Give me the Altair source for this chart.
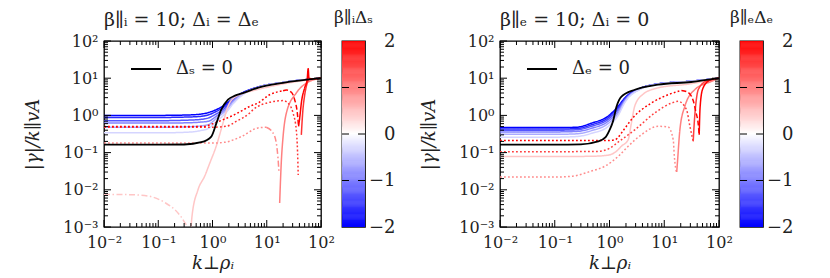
import altair as alt
import pandas as pd

# ------------------------------------------------------------------ data
# LEFT panel: beta_par_i = 10; Delta_i = Delta_e
L_K_BLUE = [0.01, 0.1, 0.3, 0.6, 0.85, 1.2, 1.7, 2.5, 3.5, 7, 20, 100]
L_BLUE_DELTA = [-2, -5/3, -4/3, -1, -2/3, -1/3]
L_BLUE = [
    [1.00, 1.00, 1.02, 1.08, 1.20, 1.45, 1.94, 3.00, 4.00, 5.80, 7.70, 10],
    [0.88, 0.88, 0.90, 0.94, 1.04, 1.30, 1.76, 2.85, 3.90, 5.80, 7.70, 10],
    [0.72, 0.72, 0.74, 0.78, 0.86, 1.12, 1.58, 2.70, 3.80, 5.75, 7.70, 10],
    [0.62, 0.62, 0.63, 0.66, 0.70, 0.97, 1.42, 2.55, 3.70, 5.70, 7.70, 10],
    [0.48, 0.48, 0.49, 0.52, 0.57, 0.85, 1.29, 2.40, 3.60, 5.70, 7.70, 10],
    [0.34, 0.34, 0.35, 0.39, 0.45, 0.70, 1.10, 2.20, 3.45, 5.65, 7.70, 10],
]
L_K_BLACK = [0.01, 0.1, 0.3, 0.62, 0.95, 1.18, 1.45, 1.93, 2.6, 3.5, 7, 20, 100]
L_BLACK = [0.163, 0.163, 0.165, 0.19, 0.27, 0.62, 1.42, 2.64, 3.4, 3.9, 5.6, 7.5, 10]

L_A_K = [0.01, 0.03, 0.065, 0.13, 0.23, 0.3, 0.36, 0.4]
L_A_G = [0.0075, 0.0074, 0.0068, 0.0046, 0.0024, 0.0014, 0.0008, 0.0003]
L_B_K = [0.38, 0.42, 0.54, 0.72, 0.89, 1.17, 1.56, 1.93, 2.6, 7, 20, 100]
L_B_G = [0.0003, 0.002, 0.01, 0.0235, 0.052, 0.148, 0.62, 1.76, 3.1, 5.0, 7.0, 10]
L_C_K = [0.01, 0.1, 0.5, 1.0, 1.7, 3.4, 6.9, 9.8]
L_C_G = [0.18, 0.18, 0.18, 0.18, 0.19, 0.27, 0.46, 0.48]
L_D_K = [9.8, 13, 15, 16.1, 16.8]
L_D_G = [0.48, 0.34, 0.18, 0.072, 0.03]
L_E_K = [17.3, 18.5, 20, 23, 35, 54, 100]
L_E_G = [0.0044, 0.052, 0.27, 1.16, 4.0, 7.4, 10]
L_F_K = [0.01, 0.1, 0.5, 1.0, 1.8, 2.74, 4.85, 5.6, 11.3, 20, 24.6, 30.5, 35, 37, 38]
L_F_G = [0.48, 0.48, 0.48, 0.48, 0.51, 0.69, 1.16, 1.42, 2.25, 2.5, 2.15, 1.16, 0.41, 0.1, 0.025]
L_G_K = [43.4, 46, 50, 53.6, 60, 100]
L_G_G = [0.3, 1.2, 3.5, 6.0, 9.2, 10]
L_H_K = [0.01, 0.1, 0.4, 0.67, 1.02, 1.68, 2.39, 3.35, 4.85, 6.9, 11.3, 16, 20]
L_H_G = [0.5, 0.5, 0.5, 0.5, 0.6, 0.8, 1.0, 1.3, 1.75, 2.15, 3.6, 4.3, 4.6]
L_I_K = [20, 23, 28.4, 32.7, 36.6, 38.6]
L_I_G = [4.6, 4.8, 4.2, 2.64, 1.16, 0.51]
L_J_K = [38.6, 41, 43.4, 50, 55.5, 58, 60, 70, 100]
L_J_G = [0.51, 1.0, 2.15, 5.5, 9.1, 18, 10, 9.6, 10]

L_PIECES = [
    (0.45, "dashdot", L_A_K, L_A_G),
    (0.45, "solid", L_B_K, L_B_G),
    (0.9, "dotted", L_C_K, L_C_G),
    (0.9, "dashdot", L_D_K, L_D_G),
    (1.0, "solid", L_E_K, L_E_G),
    (1.6, "dotted", L_F_K, L_F_G),
    (1.6, "solid", L_G_K, L_G_G),
    (2.0, "dotted", L_H_K, L_H_G),
    (2.0, "dashed", L_I_K, L_I_G),
    (2.0, "solid", L_J_K, L_J_G),
]

# RIGHT panel: beta_par_e = 10; Delta_i = 0
R_K_BLUE = [0.01, 0.1, 0.25, 0.47, 0.94, 1.44, 1.9, 3.8, 7.7, 31, 100]
R_BLUE_DELTA = [-2, -5/3, -4/3, -1, -2/3, -1/3]
R_BLUE = [
    [0.47, 0.47, 0.48, 0.62, 0.95, 1.76, 2.94, 5.50, 7.00, 8.3, 10],
    [0.43, 0.43, 0.44, 0.56, 0.86, 1.60, 2.80, 5.45, 7.00, 8.3, 10],
    [0.40, 0.40, 0.41, 0.51, 0.78, 1.45, 2.65, 5.40, 7.00, 8.3, 10],
    [0.36, 0.36, 0.37, 0.45, 0.69, 1.30, 2.50, 5.35, 6.95, 8.3, 10],
    [0.31, 0.31, 0.32, 0.39, 0.60, 1.15, 2.35, 5.30, 6.95, 8.3, 10],
    [0.26, 0.26, 0.27, 0.33, 0.50, 1.00, 2.20, 5.20, 6.90, 8.3, 10],
]
R_K_BLACK = [0.01, 0.1, 0.3, 0.62, 0.85, 1.0, 1.16, 1.34, 1.65, 2.9, 7.7, 31, 100]
R_BLACK = [0.163, 0.163, 0.167, 0.20, 0.26, 0.40, 0.70, 1.7, 3.2, 4.9, 6.7, 7.9, 10]

R_A_K = [0.01, 0.1, 0.5, 0.8, 1.08, 1.4, 1.65, 2.19, 2.5, 2.9, 4, 7.7, 31, 100]
R_A_G = [0.078, 0.078, 0.08, 0.083, 0.09, 0.115, 0.148, 0.22, 0.6, 1.8, 3.6, 5.5, 7.1, 10]
R_B_K = [0.01, 0.1, 0.2, 0.47, 0.82, 1.44, 2.19, 3.8, 7.7, 11.7, 14.6, 15.3, 16.8]
R_B_G = [0.022, 0.022, 0.023, 0.032, 0.043, 0.079, 0.148, 0.30, 0.51, 0.49, 0.22, 0.079, 0.028]
R_C_K = [16.9, 17.5, 19.3, 23.8, 36, 73, 100]
R_C_G = [0.03, 0.06, 0.41, 1.76, 4.9, 8.2, 10]
R_D_K = [0.01, 0.1, 0.6, 1.0, 1.5, 2.9, 6.7, 13.6, 18, 25.5, 29.4, 33.8]
R_D_G = [0.106, 0.106, 0.107, 0.13, 0.2, 0.41, 1.16, 2.15, 2.39, 1.42, 0.51, 0.20]
R_E_K = [33.8, 35.5, 37, 42, 60, 100]
R_E_G = [0.2, 0.7, 1.5, 5, 8.5, 10]
R_F_K = [0.01, 0.1, 0.5, 0.9, 1.25, 1.8, 2.5, 5.8, 11.8, 20.6]
R_F_G = [0.21, 0.21, 0.21, 0.21, 0.22, 0.4, 0.77, 2.15, 3.6, 4.7]
R_G_K = [20.6, 27, 33.8, 38, 41.7, 43.5]
R_G_G = [4.7, 4.2, 2.5, 1.2, 0.6, 0.3]
R_H_K = [43.5, 45, 50, 65, 100]
R_H_G = [0.3, 1.5, 5, 8.5, 10]

R_PIECES = [
    (0.45, "solid", R_A_K, R_A_G),
    (0.9, "dotted", R_B_K, R_B_G),
    (1.0, "solid", R_C_K, R_C_G),
    (1.5, "dotted", R_D_K, R_D_G),
    (1.5, "solid", R_E_K, R_E_G),
    (2.0, "dotted", R_F_K, R_F_G),
    (2.0, "dashed", R_G_K, R_G_G),
    (2.0, "solid", R_H_K, R_H_G),
]

X_MAJOR = [0.01, 0.1, 1, 10, 100]
Y_MAJOR = [0.001, 0.01, 0.1, 1, 10, 100]
X_MINOR = [m * 10.0 ** e for e in range(-2, 2) for m in range(2, 10)]
Y_MINOR = [m * 10.0 ** e for e in range(-3, 2) for m in range(2, 10)]
X_LABELS = ["10⁻²", "10⁻¹", "10⁰", "10¹", "10²"]
Y_LABELS = ["10⁻³", "10⁻²", "10⁻¹", "10⁰", "10¹", "10²"]

CB_TICKS = [-2, -1, 0, 1, 2]
CB_INNER = [-1, 0, 1]
CB_STEP = 0.02
CB_LO = [-2 + i * CB_STEP for i in range(200)]

# ------------------------------------------------------------------ style
FONT = "DejaVu Serif"
TXT = "#222222"
W_L, W_R, H = 217, 219, 186
CB_W = 23
GAP = 21
MID_GAP = 135

X_SCALE = alt.Scale(type="log", domain=[0.01, 100], nice=False)
Y_SCALE = alt.Scale(type="log", domain=[0.001, 100], nice=False)
C_SCALE = alt.Scale(domain=[-2, 0, 2], range=["#0000ff", "#ffffff", "#ff0000"], interpolate="rgb")
DASH_SCALE = alt.Scale(domain=["solid", "dotted", "dashed", "dashdot"],
                       range=[[1, 0], [1.8, 2.2], [5, 2.5], [6, 2.5, 1.5, 2.5]])


def lbl_expr(labels, off):
    arr = "[" + ",".join("'" + s + "'" for s in labels) + "]"
    return f"{arr}[round(log(datum.value)/LN10)+{off}]"


X_AXIS = alt.Axis(values=X_MAJOR, labelExpr=lbl_expr(X_LABELS, 2), title="k⊥ρᵢ",
                  ticks=False, domain=False, grid=False, labelFont=FONT, labelFontSize=16,
                  labelPadding=7, labelFlush=False, labelOverlap=False, labelColor=TXT,
                  titleFont=FONT, titleFontSize=18, titleFontStyle="italic",
                  titleFontWeight="normal", titlePadding=4, titleColor=TXT)
Y_AXIS = alt.Axis(values=Y_MAJOR, labelExpr=lbl_expr(Y_LABELS, 3), title="|γ|/k∥vA",
                  ticks=False, domain=False, grid=False, labelFont=FONT, labelFontSize=16,
                  labelPadding=6, labelFlush=False, labelOverlap=False, labelColor=TXT,
                  titleFont=FONT, titleFontSize=18, titleFontStyle="italic",
                  titleFontWeight="normal", titlePadding=20, titleColor=TXT)


def build_df(kb, blues, deltas, pieces):
    rows = []
    seg = 0
    for d, vals in zip(deltas, blues):
        for k, g in zip(kb, vals):
            rows.append(dict(k=k, g=g, delta=d, style="solid", seg=f"s{seg:02d}"))
        seg += 1
    for d, style, ks, gs in pieces:
        for k, g in zip(ks, gs):
            rows.append(dict(k=k, g=g, delta=d, style=style, seg=f"s{seg:02d}"))
        seg += 1
    return pd.DataFrame(rows)


def tick_layers(W):
    xm = pd.DataFrame({"v": X_MAJOR})
    xn = pd.DataFrame({"v": X_MINOR})
    ym = pd.DataFrame({"v": Y_MAJOR})
    yn = pd.DataFrame({"v": Y_MINOR})
    xe = alt.X("v:Q", scale=X_SCALE, axis=X_AXIS)
    ye = alt.Y("v:Q", scale=Y_SCALE, axis=Y_AXIS)
    out = []
    for d, ln in ((xm, 7), (xn, 4)):
        r = alt.Chart(d).mark_rule(color="black", strokeWidth=1)
        out.append(r.encode(x=xe, y=alt.value(H), y2=alt.value(H - ln)))
        out.append(r.encode(x=xe, y=alt.value(0), y2=alt.value(ln)))
    for d, ln in ((ym, 7), (yn, 4)):
        r = alt.Chart(d).mark_rule(color="black", strokeWidth=1)
        out.append(r.encode(y=ye, x=alt.value(0), x2=alt.value(ln)))
        out.append(r.encode(y=ye, x=alt.value(W), x2=alt.value(W - ln)))
    return out


def panel(df, kblack, gblack, black_name, title, W):
    lines = alt.Chart(df).mark_line(clip=True, interpolate="monotone", strokeWidth=1.5).encode(
        x=alt.X("k:Q", scale=X_SCALE, axis=X_AXIS),
        y=alt.Y("g:Q", scale=Y_SCALE, axis=Y_AXIS),
        color=alt.Color("delta:Q", scale=C_SCALE, legend=None),
        strokeDash=alt.StrokeDash("style:N", scale=DASH_SCALE, legend=None),
        detail="seg:N",
    )
    bdf = pd.DataFrame({"k": kblack, "g": gblack, "name": black_name})
    black = alt.Chart(bdf).mark_line(clip=True, interpolate="monotone", strokeWidth=1.8).encode(
        x=alt.X("k:Q", scale=X_SCALE, axis=X_AXIS),
        y=alt.Y("g:Q", scale=Y_SCALE, axis=Y_AXIS),
        stroke=alt.Stroke("name:N", scale=alt.Scale(range=["black"]),
                          legend=alt.Legend(title=None, orient="none", legendX=26, legendY=12,
                                            symbolType="stroke", symbolSize=900,
                                            symbolStrokeWidth=2, labelFont=FONT,
                                            labelFontSize=18, labelOffset=14,
                                            labelColor=TXT, padding=0)),
    )
    return alt.layer(lines, black, *tick_layers(W)).properties(
        width=W, height=H,
        title=alt.TitleParams(title, anchor="start", frame="group", font=FONT, fontSize=19,
                              fontWeight="normal", offset=3, color=TXT),
    )


def colorbar(title):
    d = pd.DataFrame({"v": CB_LO, "v2": [v + CB_STEP * 1.5 for v in CB_LO]})
    ysc = alt.Scale(domain=[-2, 2], nice=False, zero=False)
    cax = alt.Axis(values=CB_TICKS, ticks=False, domain=False, grid=False, orient="right",
                   labelFont=FONT, labelFontSize=18, labelAlign="right", labelPadding=30,
                   labelBaseline="middle", labelFlush=False, labelColor=TXT, title=None)
    rect = alt.Chart(d).mark_rect(clip=True).encode(
        y=alt.Y("v:Q", scale=ysc, axis=cax), y2="v2:Q",
        color=alt.Color("v:Q", scale=C_SCALE, legend=None),
    )
    t = pd.DataFrame({"v": CB_INNER})
    r = alt.Chart(t).mark_rule(color="black", strokeWidth=1)
    ya = alt.Y("v:Q", scale=ysc, axis=cax)
    left = r.encode(y=ya, x=alt.value(0), x2=alt.value(7))
    right = r.encode(y=ya, x=alt.value(CB_W), x2=alt.value(CB_W - 7))
    return alt.layer(rect, left, right).properties(
        width=CB_W, height=H,
        title=alt.TitleParams(title, anchor="middle", frame="group", font=FONT, fontSize=17,
                              fontWeight="normal", offset=5, color=TXT),
    )


def spacer(w):
    return alt.Chart(pd.DataFrame({"v": [0]})).mark_point(opacity=0).encode(
        x=alt.value(0), y=alt.value(0)
    ).properties(width=w, height=H, view=alt.ViewBackground(stroke="transparent"))


df_l = build_df(L_K_BLUE, L_BLUE, L_BLUE_DELTA, L_PIECES)
df_r = build_df(R_K_BLUE, R_BLUE, R_BLUE_DELTA, R_PIECES)

p1 = panel(df_l, L_K_BLACK, L_BLACK, "Δₛ = 0", "β∥ᵢ = 10; Δᵢ = Δₑ", W_L)
p2 = panel(df_r, R_K_BLACK, R_BLACK, "Δₑ = 0", "β∥ₑ = 10; Δᵢ = 0", W_R)
c1 = colorbar("β∥ᵢΔₛ")
c2 = colorbar("β∥ₑΔₑ")

chart = alt.hconcat(
    p1, c1, spacer(MID_GAP - 2 * GAP), p2, c2, spacing=GAP, bounds="flush"
).resolve_scale(
    stroke="independent"
).properties(
    padding={"left": 16, "top": 0, "right": 5, "bottom": 0}
).configure_view(stroke="black", strokeWidth=1.3)

chart.save("out.html", embed_options={"renderer": "svg", "actions": False})
